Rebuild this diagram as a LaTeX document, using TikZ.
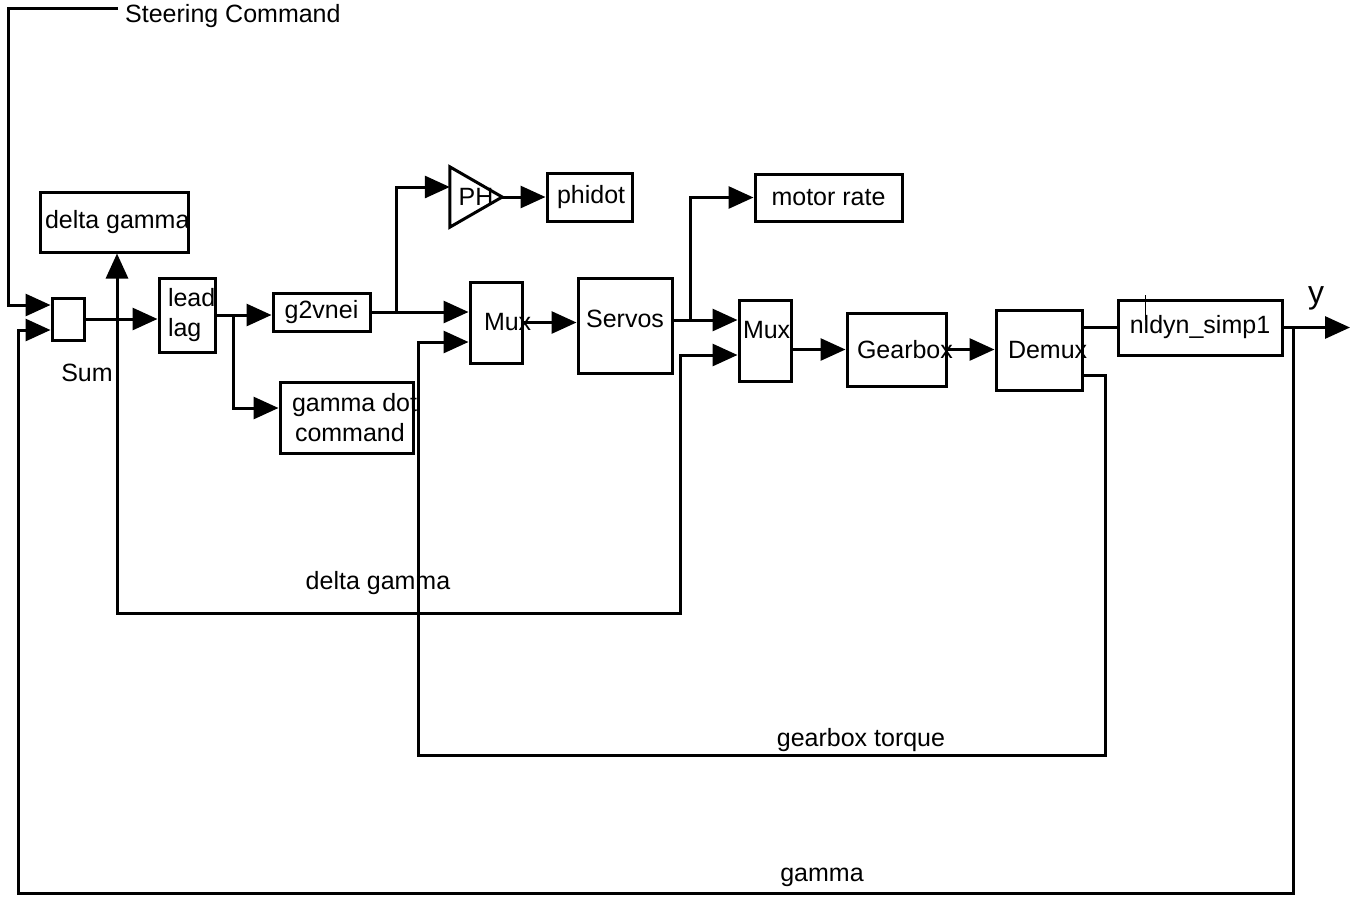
\documentclass[tikz,border=0pt]{standalone}
\usepackage{fontspec}
\setmainfont{Liberation Sans}
\usetikzlibrary{arrows.meta}
\newcommand{\intext}[3]{\makebox[#1][l]{\hspace{#2}#3}}

\begin{document}
\begin{tikzpicture}[x=1pt,y=-1pt,
  font=\fontsize{25}{30}\selectfont,
  blk/.style 2 args={draw, line width=3pt, minimum width=#1, minimum height=#2, inner sep=0pt, align=left},
  sig/.style={line width=3pt, -{Triangle[length=25pt,width=22pt]}},
  wire/.style={line width=3pt},
  lbl/.style={inner sep=0pt}]
  \useasboundingbox (0,0) rectangle (1350,898);
  % blocks
  \node[blk={32pt}{42pt}]  (sum)   at (68,319) {};
  \node[blk={148pt}{60pt}] (dgam)  at (114,222) {\intext{148pt}{5pt}{delta gamma}};
  \node[blk={56pt}{74pt}]  (lead)  at (187,315) {\intext{56pt}{9pt}{lead}\\\intext{56pt}{9pt}{lag}};
  \node[blk={97pt}{38pt}]  (g2v)   at (321.5,312) {g2vnei};
  \node[blk={133pt}{71pt}] (gdot)  at (346.5,417.5) {\intext{133pt}{12pt}{gamma dot}\\\intext{133pt}{15pt}{command}};
  \node[minimum width=52pt, minimum height=60pt, inner sep=0pt] (ph) at (476,197) {PH};
  \draw[line width=3pt, line join=miter] (ph.north west) -- (ph.east) -- (ph.south west) -- cycle;
  \node[blk={85pt}{48pt}]  (phi)   at (589.5,197) {\intext{85pt}{10pt}{phidot}};
  \node[blk={52pt}{81pt}]  (mux1)  at (496,322.5) {\intext{52pt}{14pt}{Mux}};
  \node[blk={94pt}{95pt}]  (srv)   at (625,325.5) {\raisebox{7pt}[\height][\depth]{Servos}};
  \node[blk={147pt}{47pt}] (mot)   at (828.5,197.5) {motor rate};
  \node[blk={52pt}{81pt}]  (mux2)  at (765,340.5) {\raisebox{10pt}[\height][\depth]{\intext{52pt}{4pt}{Mux}}};
  \node[blk={99pt}{73pt}]  (gear)  at (896.5,349.5) {\intext{99pt}{10pt}{Gearbox}};
  \node[blk={86pt}{80pt}]  (demux) at (1039,350) {\intext{86pt}{12pt}{Demux}};
  \node[blk={164pt}{55pt}] (nld)   at (1200,327.5) {nldyn\_simp1};
  \draw[line width=0.8pt] (1145,295) -- (1145,320);
  % labels
  \node[lbl, anchor=west] (steer) at (125,16) {Steering Command};
  \node[lbl] (sumlbl) at (87,373) {Sum};
  \node[lbl, font=\fontsize{32}{34}\selectfont] (ylbl) at (1316,298) {y};
  \node[lbl] (dglbl) at (378,583) {delta gamma};
  \node[lbl] (gtlbl) at (861,740) {gearbox torque};
  \node[lbl] (gmlbl) at (822,877) {gamma};
  % connections
  \coordinate (cmd) at (118,8);
  \coordinate (dj) at ([xshift=3pt]dgam.south |- sum.east);
  \coordinate (yj) at ([xshift=10pt]nld.east);
  \draw[sig] (cmd) -| (8,305) -- (sum.west |- 0,305);
  \draw[sig] (sum.east) -- (sum.east -| lead.west);
  \draw[sig] (dj) -- (dj |- dgam.south);
  \draw[sig] (dj) |- (680,613) |- (mux2.west |- 0,355);
  \draw[sig] (lead.east) -- (lead.east -| g2v.west);
  \draw[sig] (lead.east -| 233,0) |- (gdot.west |- 0,408);
  \draw[sig] (g2v.east) -- (g2v.east -| mux1.west);
  \draw[sig] (g2v.east -| 396,0) |- (ph.west |- 0,187);
  \draw[sig] (ph.east) -- (phi.west);
  \draw[sig] (mux1.east) -- (mux1.east -| srv.west);
  \draw[sig] (srv.east |- 0,320) -- (mux2.west |- 0,320);
  \draw[sig] (690,320) |- (mot.west);
  \draw[sig] (gear.west -| mux2.east) -- (gear.west);
  \draw[sig] (gear.east) -- (gear.east -| demux.west);
  \draw[wire] (demux.east |- nld.west) -- (nld.west);
  \draw[sig] (demux.east |- 0,375) -| (1105,755) -| (418,342) -- (mux1.west |- 0,342);
  \draw[sig] (nld.east) -- (nld.east -| 1350,0);
  \draw[sig] (yj) |- (18,893) |- (sum.west |- 0,330);
\end{tikzpicture}
\end{document}
